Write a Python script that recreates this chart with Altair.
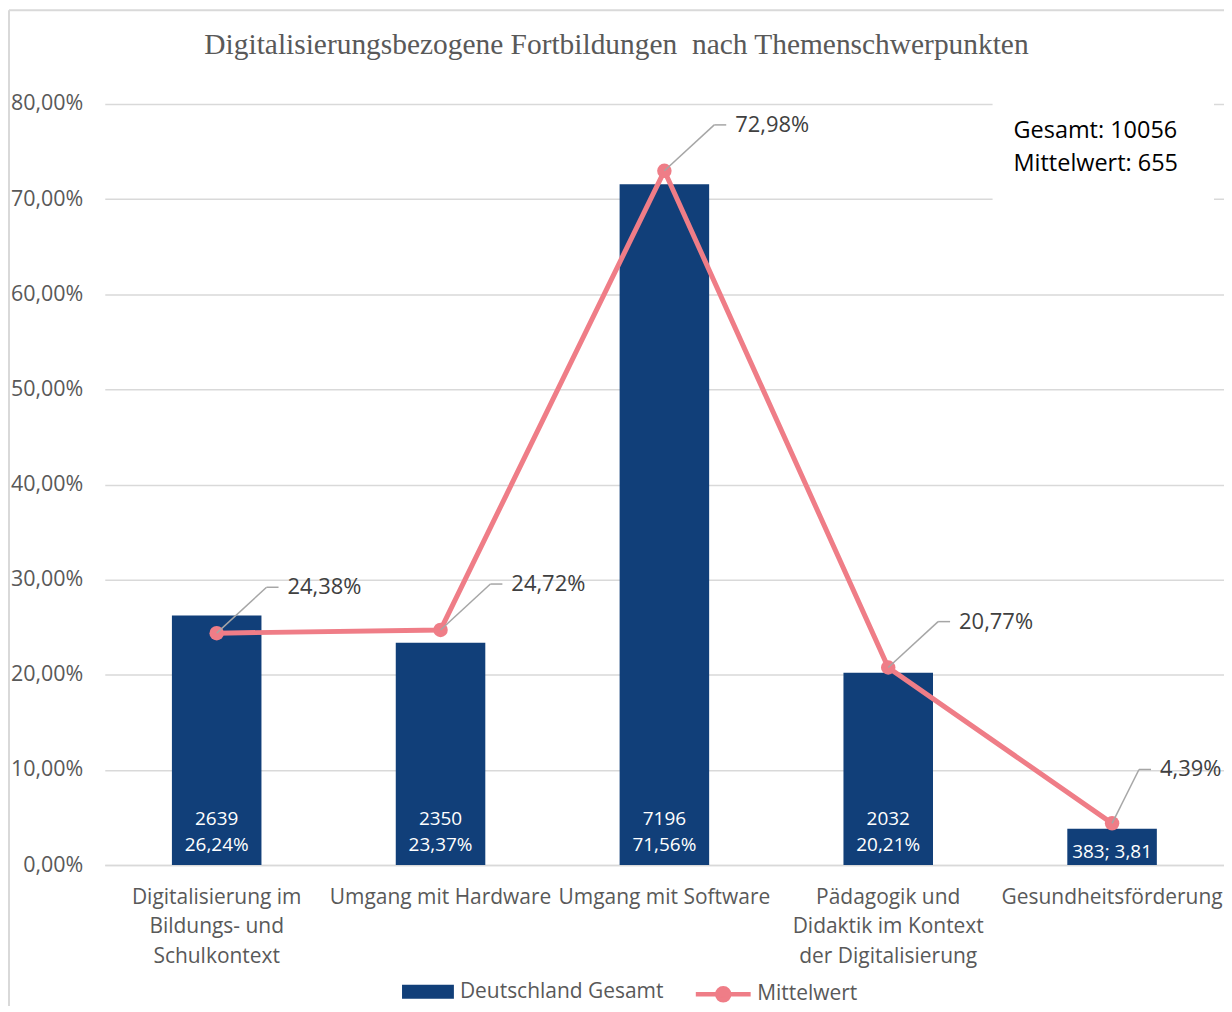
import altair as alt
import pandas as pd

categories = [
    "Digitalisierung im|Bildungs- und|Schulkontext",
    "Umgang mit Hardware",
    "Umgang mit Software",
    "Pädagogik und|Didaktik im Kontext|der Digitalisierung",
    "Gesundheitsförderung",
]
counts = [2639, 2350, 7196, 2032, 383]
bar_share = [0.2624, 0.2337, 0.7156, 0.2021, 0.0381]
mean_share = [0.2438, 0.2472, 0.7298, 0.2077, 0.0439]
bar_labels = ["2639\n26,24%", "2350\n23,37%", "7196\n71,56%", "2032\n20,21%", "383; 3,81"]
series_names = ["Deutschland Gesamt", "Mittelwert"]
info_text = "Gesamt: 10056\nMittelwert: 655"
title_text = "Digitalisierungsbezogene Fortbildungen \u00a0nach Themenschwerpunkten"
y_ticks = [0, 0.1, 0.2, 0.3, 0.4, 0.5, 0.6, 0.7, 0.8]

BLUE = "#113f79"
PINK = "#ef7d87"
GRID = "#d9d9d9"
FONT = "Open Sans"

df = pd.DataFrame({
    "cat": categories,
    "count": counts,
    "bar": bar_share,
    "mean": mean_share,
    "blabel": bar_labels,
    "idx": list(range(len(categories))),
    "s_bar": [series_names[0]] * len(categories),
    "s_line": [series_names[1]] * len(categories),
})

x_enc = alt.X(
    "cat:N", sort=None, title=None,
    scale=alt.Scale(paddingInner=0.6, paddingOuter=0.3),
    axis=alt.Axis(
        labelExpr="split(datum.label, '|')", labelAngle=0, labelFontSize=21,
        labelFont=FONT, labelColor="#595959", labelLineHeight=30, labelPadding=21,
        labelLimit=400, ticks=False, domainColor=GRID, domainWidth=1.5,
        labelBaseline="top",
    ),
)
y_scale = alt.Scale(domain=[0, 0.8])

base = alt.Chart(df)

bars = base.mark_bar().encode(
    x=x_enc,
    y=alt.Y("bar:Q", scale=y_scale, title=None,
            axis=alt.Axis(values=y_ticks, format=".2%", labelFontSize=21.5, labelFont=FONT,
                          labelColor="#595959", ticks=False, domain=False,
                          gridColor=GRID, gridWidth=1.5, labelPadding=22)),
    color=alt.Color("s_bar:N",
                    scale=alt.Scale(domain=[series_names[0]], range=[BLUE]),
                    legend=alt.Legend(title=None, orient="none", legendX=298, legendY=864,
                                      symbolType="M-1,-0.27H1V0.27H-1Z", symbolSize=2704,
                                      symbolStrokeWidth=0, labelFontSize=21, labelFont=FONT,
                                      labelColor="#595959", labelOffset=6, padding=0,
                                      labelLimit=400)),
)

bar_text_multi = base.transform_filter("datum.idx < 4").mark_text(
    color="white", fontSize=19, font=FONT, lineBreak="\n", lineHeight=26,
    baseline="middle", dy=-46,
).encode(x=alt.X("cat:N", sort=None), y=alt.datum(0), text="blabel:N")

bar_text_single = base.transform_filter("datum.idx == 4").mark_text(
    color="white", fontSize=19, font=FONT, baseline="middle", dy=-13,
).encode(x=alt.X("cat:N", sort=None), y=alt.datum(0), text="blabel:N")

line = base.mark_line(strokeWidth=5).encode(
    x=alt.X("cat:N", sort=None),
    y=alt.Y("mean:Q", scale=y_scale),
    stroke=alt.Stroke("s_line:N",
                      scale=alt.Scale(domain=[series_names[1]], range=[PINK]),
                      legend=alt.Legend(title=None, orient="none", legendX=590, legendY=862.5,
                                        symbolType="M-1,0H1M-0.22,0A0.22,0.22,0,1,0,0.22,0A0.22,0.22,0,1,0,-0.22,0",
                                        symbolSize=3025, symbolStrokeWidth=4.5,
                                        symbolFillColor=PINK, labelFontSize=21, labelFont=FONT,
                                        labelColor="#595959", labelOffset=4, padding=0,
                                        labelLimit=400)),
)

points = base.mark_circle(size=210, color=PINK, opacity=1).encode(
    x=alt.X("cat:N", sort=None), y=alt.Y("mean:Q", scale=y_scale),
)

def leader(filter_expr, dx, dy):
    sub = base.transform_filter(filter_expr)
    diag = sub.mark_rule(color="#a6a6a6", strokeWidth=1.5, x2Offset=dx, y2Offset=dy).encode(
        x=alt.X("cat:N", sort=None), x2="cat:N",
        y=alt.Y("mean:Q", scale=y_scale), y2="mean:Q",
    )
    horiz = sub.mark_rule(color="#a6a6a6", strokeWidth=1.5, xOffset=dx, x2Offset=dx + 12,
                          yOffset=dy, y2Offset=dy).encode(
        x=alt.X("cat:N", sort=None), x2="cat:N",
        y=alt.Y("mean:Q", scale=y_scale), y2="mean:Q",
    )
    txt = sub.mark_text(align="left", baseline="middle", fontSize=22, font=FONT,
                        color="#404040", dx=dx + 21, dy=dy).encode(
        x=alt.X("cat:N", sort=None), y=alt.Y("mean:Q", scale=y_scale),
        text=alt.Text("mean:Q", format=".2%"),
    )
    return [diag, horiz, txt]

leaders = leader("datum.idx < 4", 50, -46) + leader("datum.idx == 4", 27, -54)

info_box = alt.Chart(pd.DataFrame({"t": [info_text]})).mark_rect(color="white").encode(
    x=alt.value(890), x2=alt.value(1112), y=alt.value(-6), y2=alt.value(100),
)
info = alt.Chart(pd.DataFrame({"t": [info_text]})).mark_text(
    align="left", baseline="top", fontSize=23.5, font=FONT, color="#000000",
    lineBreak="\n", lineHeight=33,
).encode(x=alt.value(911), y=alt.value(15), text="t:N")

border_left = alt.Chart(pd.DataFrame({"t": [0]})).mark_rule(color=GRID, strokeWidth=2).encode(
    x=alt.value(-96), y=alt.value(-94), y2=alt.value(909),
)
border_top = alt.Chart(pd.DataFrame({"t": [0]})).mark_rule(color=GRID, strokeWidth=2).encode(
    x=alt.value(-96), x2=alt.value(1122), y=alt.value(-94),
)

chart = alt.layer(
    border_left, border_top, info_box, bars, bar_text_multi, bar_text_single,
    line, points, *leaders, info,
).resolve_scale(color="independent", stroke="independent").properties(
    width=1122, height=763,
    autosize=alt.AutoSizeParams(type="none"),
    padding={"left": 97, "top": 95, "right": 0, "bottom": 140},
    title=alt.Title(title_text,
                    font="Liberation Serif", fontSize=29.5, color="#595959", fontWeight="normal",
                    anchor="middle", frame="bounds", offset=-51),
).configure(
    locale={"number": {"decimal": ",", "thousands": ".", "grouping": [3], "currency": ["", " €"]}},
).configure_view(stroke=None)

chart.save("out.html", embed_options={"renderer": "svg", "actions": False})
